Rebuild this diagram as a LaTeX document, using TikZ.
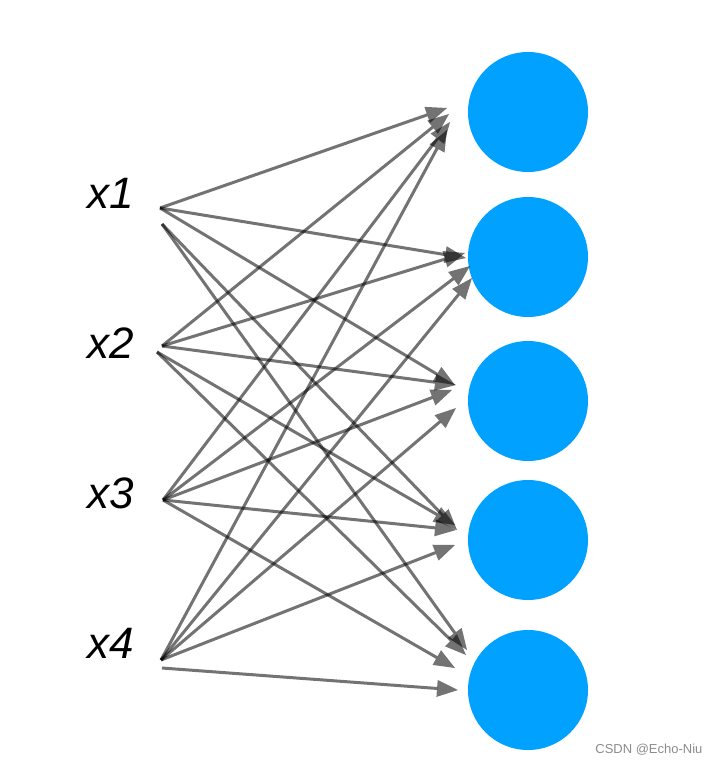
\documentclass[tikz,border=0pt]{standalone}
\usepackage{fontspec}
\setmainfont{Liberation Sans}
\usetikzlibrary{arrows.meta}
\definecolor{modra}{RGB}{0,161,255}

\begin{document}
\begin{tikzpicture}[x=1pt,y=-1pt,
    vstup/.style={font=\fontsize{44}{48}\selectfont\itshape},
    neuron/.style={circle,fill=modra,minimum size=120pt,inner sep=0pt},
    sipka/.style={draw=black,opacity=.55,line width=3pt,
        -{Triangle[length=21pt,width=17pt,line width=0pt]}}]
        \useasboundingbox (0,0) rectangle (717,765);

        % vstupy
        \node[vstup] (x1) at (111,193) {x1};
        \node[vstup] (x2) at (111,343) {x2};
        \node[vstup] (x3) at (111,493) {x3};
        \node[vstup] (x4) at (111,643) {x4};

        % začátky šipek
        \coordinate (s1a) at (160,208);
        \coordinate (s1b) at (162,224);
        \coordinate (s2a) at (162,346);
        \coordinate (s2b) at (157,352);
        \coordinate (s3) at (163,500);
        \coordinate (s4a) at (161,660);
        \coordinate (s4b) at (162,668);

        % neurony
        \node[neuron] (n1) at (528,112) {};
        \node[neuron] (n2) at (528,257) {};
        \node[neuron] (n3) at (528,401) {};
        \node[neuron] (n4) at (528,540) {};
        \node[neuron] (n5) at (528,690) {};

        % konce šipek
        \coordinate (k11) at (447,108);
        \coordinate (k21) at (449,114);
        \coordinate (k31) at (450,122);
        \coordinate (k41) at (447,130);
        \coordinate (k12) at (466,258);
        \coordinate (k22) at (465,253);
        \coordinate (k32) at (470,266);
        \coordinate (k42) at (472,278);
        \coordinate (k13) at (455,385);
        \coordinate (k23) at (456,385);
        \coordinate (k33) at (452,390);
        \coordinate (k43) at (456,408);
        \coordinate (k14) at (457,530);
        \coordinate (k24) at (455,525);
        \coordinate (k34) at (456,530);
        \coordinate (k44) at (455,545);
        \coordinate (k15) at (467,650);
        \coordinate (k25) at (466,655);
        \coordinate (k35) at (455,668);
        \coordinate (k45) at (458,690);

        % šipky
        \draw[sipka] (s1a) -- (k11);
        \draw[sipka] (s1a) -- (k12);
        \draw[sipka] (s1a) -- (k13);
        \draw[sipka] (s1b) -- (k14);
        \draw[sipka] (s1b) -- (k15);
        \draw[sipka] (s2a) -- (k21);
        \draw[sipka] (s2a) -- (k22);
        \draw[sipka] (s2a) -- (k23);
        \draw[sipka] (s2b) -- (k24);
        \draw[sipka] (s2b) -- (k25);
        \foreach \j in {1,...,5}
            \draw[sipka] (s3) -- (k3\j);
        \foreach \j in {1,...,4}
            \draw[sipka] (s4a) -- (k4\j);
        \draw[sipka] (s4b) -- (k45);

        \node[text=black!45,font=\fontsize{13}{15}\selectfont,anchor=east] (wm) at (706,750) {CSDN @Echo-Niu};
\end{tikzpicture}
\end{document}
